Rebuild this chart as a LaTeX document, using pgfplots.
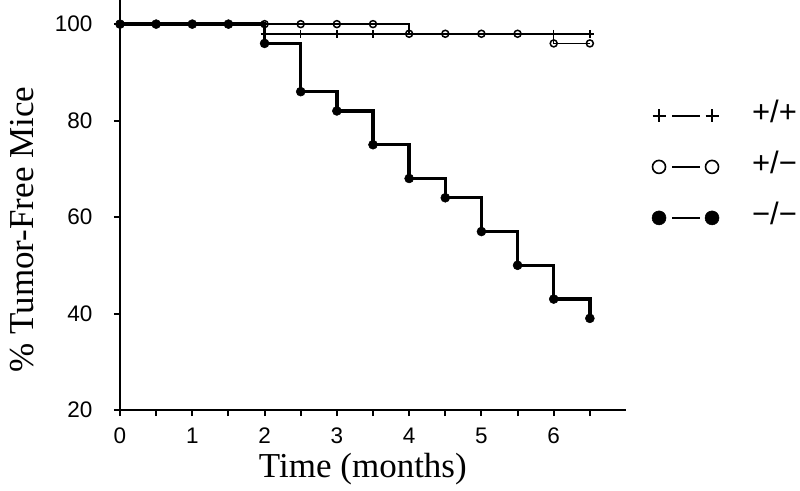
\documentclass[border=0pt]{standalone}
\usepackage{pgfplots}
\pgfplotsset{compat=1.18}
\usepackage{fontspec}
\setmainfont{Liberation Serif}
\setsansfont{Liberation Sans}
\begin{document}
\begin{tikzpicture}[x=1pt,y=1pt]
\useasboundingbox (0,0) rectangle (800,490);
\begin{axis}[
  at={(120pt,80pt)}, anchor=south west,
  scale only axis, width=506pt, height=410pt,
  xmin=0, xmax=7, ymin=20, ymax=105,
  axis lines=left,
  axis line style={line width=2pt,-},
  xtick={0,1,...,6}, minor xtick={0.5,1.5,...,6.5},
  ytick={20,40,...,100},
  tick align=outside,
  major tick length=6pt, minor tick length=6pt,
  tick style={line width=2pt, black},
  tick label style={font=\sffamily\fontsize{22.5}{22.5}\selectfont},
  xticklabel shift=8pt,
  yticklabel shift=18pt,
  /pgf/number format/assume math mode=true,
  xlabel={Time (months)}, ylabel={\% Tumor-Free Mice},
  label style={font=\rmfamily\fontsize{35}{35}\selectfont},
  xlabel style={at={(axis description cs:0.48,-0.145)}, anchor=center},
  ylabel style={at={(axis description cs:-0.1937,0.44)}, anchor=center},
  clip=false,
  legend style={draw=none, fill=none, at={(axis cs:7.36,70.4)}, anchor=west,
    inner sep=0pt, outer sep=0pt, row sep=30pt, column sep=33pt,
    nodes={inner sep=0pt, text height=17pt, text depth=4pt},
    font=\sffamily\fontsize{31}{31}\selectfont},
  legend cell align=left,
  legend image code/.code={
    \draw[line width=1.5pt] (13pt,0pt) -- (41pt,0pt);
    \draw[#1, only marks] plot coordinates {(0pt,0pt) (53pt,0pt)};
  },
]
% +/+
\addplot[const plot, line width=1.5pt, mark=+, mark size=4pt,
  mark indices={2,3,4,5,10,11}, forget plot]
  coordinates {(0,100) (2,98) (2.5,98) (3,98) (3.5,98) (4,98) (4.5,98) (5,98) (5.5,98) (6,98) (6.5,98)};
% +/-
\addplot[const plot, line width=1.5pt, mark=o, mark size=3.5pt,
  mark options={fill=white}, forget plot]
  coordinates {(2,100) (2.5,100) (3,100) (3.5,100) (4,98) (4.5,98) (5,98) (5.5,98) (6,96) (6.5,96)};
% -/-
\addplot[const plot, line width=3.3pt, mark=*, mark size=4.5pt,
  mark options={line width=0.5pt}, forget plot]
  coordinates {(0,100) (0.5,100) (1,100) (1.5,100) (2,96) (2.5,86) (3,82) (3.5,75) (4,68) (4.5,64) (5,57) (5.5,50) (6,43) (6.5,39)};
\addlegendimage{mark=+, mark size=6.5pt, line width=1.3pt}
\addlegendentry{+/+}
\addlegendimage{mark=o, mark size=6.5pt, line width=1.6pt}
\addlegendentry{+/−}
\addlegendimage{mark=*, mark size=7pt, line width=0.5pt}
\addlegendentry{−/−}
\end{axis}
\end{tikzpicture}
\end{document}
